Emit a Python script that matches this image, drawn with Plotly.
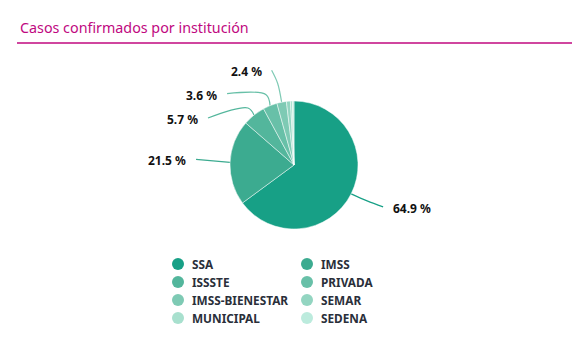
import math
import plotly.graph_objects as go

# ---- data ----
institutions = ["SSA", "IMSS", "ISSSTE", "PRIVADA", "IMSS-BIENESTAR", "SEMAR", "MUNICIPAL", "SEDENA"]
percentages = [64.9, 21.5, 5.7, 3.6, 2.4, 1.0, 0.5, 0.4]
colors = ["#17a086", "#3cab90", "#53b69c", "#68c0a8", "#7ecab4", "#93d5c1", "#a8e0ce", "#bcebdd"]
title_text = "Casos confirmados por institución"

# ---- layout constants (screen pixels; page body has an 8px margin) ----
W, H = 580, 356
OFF = 8
CX, CY, R = 294, 165, 64
MAGENTA = "#c0087f"
FONT = "Noto Sans"

# label layout per labelled slice: (elbow dx, dy), (end dx, dy), text side
label_layout = {
    "SSA": ((16, 7), (32, 13), "left"),
    "IMSS": ((-17, -1.5), (-34, -3), "right"),
    "ISSSTE": ((-6, -7), (-46, 3), "right"),
    "PRIVADA": ((-4, -11), (-43, -12), "right"),
    "IMSS-BIENESTAR": ((-4, -19), (-10, -32), "right"),
}

fig = go.Figure()

fig.add_trace(go.Pie(
    labels=institutions, values=percentages, sort=False, direction="clockwise",
    rotation=0, marker=dict(colors=colors, line=dict(color="rgba(255,255,255,0.6)", width=0.8)),
    textinfo="none", hoverinfo="label+percent", showlegend=False,
    domain=dict(x=[(CX - R - OFF) / W, (CX + R - OFF) / W],
                y=[(H + OFF - CY - R) / H, (H + OFF - CY + R) / H]),
))

annotations = []
cum = 0.0
total = sum(percentages)
for name, val, col in zip(institutions, percentages, colors):
    mid = cum + val / 2
    cum += val
    if name not in label_layout:
        continue
    ang = math.radians(90 - mid / total * 360)
    ex, ey = CX + R * math.cos(ang), CY - R * math.sin(ang)
    (mdx, mdy), (fdx, fdy), side = label_layout[name]
    xs = [ex, ex + mdx, ex + fdx]
    ys = [ey, ey + mdy, ey + fdy]
    fig.add_trace(go.Scatter(
        x=xs, y=ys, mode="lines", line=dict(color=col, width=1.2, shape="spline"),
        hoverinfo="skip", showlegend=False,
    ))
    tx = xs[-1] + (8 if side == "left" else -8)
    annotations.append(dict(
        x=tx, y=ys[-1] + 1.5, xref="x", yref="y", text=f"{val:.1f} %", showarrow=False,
        xanchor=side, yanchor="middle",
        font=dict(family=FONT, size=12, color="#111111", weight="bold"),
    ))

# ---- legend (manual, 2 columns) ----
leg_x0, leg_dx, leg_y0, leg_dy = 178, 129, 264, 18
lx, ly = [], []
for i, name in enumerate(institutions):
    x = leg_x0 + (i % 2) * leg_dx
    y = leg_y0 + (i // 2) * leg_dy
    lx.append(x)
    ly.append(y)
    annotations.append(dict(
        x=x + 12, y=y, xref="x", yref="y", text=name, showarrow=False,
        xanchor="left", yanchor="middle",
        font=dict(family=FONT, size=11.8, color="#2a2f3a", weight="bold"),
    ))
fig.add_trace(go.Scatter(
    x=lx, y=ly, mode="markers", marker=dict(size=12, color=colors, line=dict(width=0)),
    hoverinfo="skip", showlegend=False,
))

# ---- title ----
annotations.append(dict(
    x=18, y=27, xref="x", yref="y", text=title_text, showarrow=False,
    xanchor="left", yanchor="middle", font=dict(family=FONT, size=14.3, color=MAGENTA),
))

fig.update_layout(
    width=W, height=H, margin=dict(l=0, r=0, t=0, b=0),
    paper_bgcolor="white", plot_bgcolor="rgba(0,0,0,0)",
    xaxis=dict(range=[OFF, W + OFF], visible=False, fixedrange=True, domain=[0, 1]),
    yaxis=dict(range=[H + OFF, OFF], visible=False, fixedrange=True, domain=[0, 1]),
    annotations=annotations,
    shapes=[dict(type="line", xref="x", yref="y", x0=17, x1=572, y0=43, y1=43,
                 line=dict(color=MAGENTA, width=1.5))],
    showlegend=False,
)

fig.write_html("out.html")
